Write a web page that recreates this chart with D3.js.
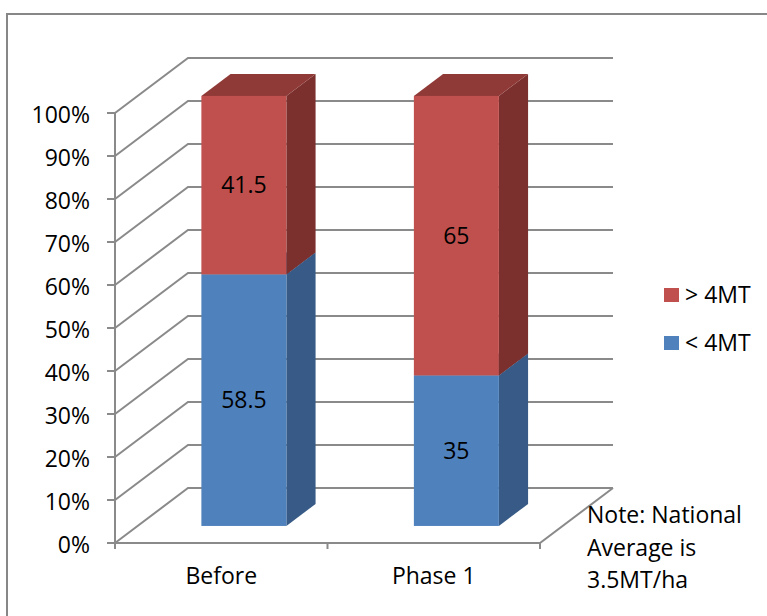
<!DOCTYPE html>
<html>
<head>
<meta charset="utf-8">
<script src="https://cdn.jsdelivr.net/npm/d3@7"></script>
<style>
  html, body { margin: 0; padding: 0; background: #fff; }
  svg { display: block; font-family: "Open Sans", "Noto Sans", sans-serif; }
</style>
</head>
<body>
<svg id="chart" width="767" height="616"></svg>
<script>
// Yield share per stage (percent of farms)
const categories = ["Before", "Phase 1"];
const below4MT = [58.5, 35];
const above4MT = [41.5, 65];
const seriesNames = ["< 4MT", "> 4MT"];
const yTickValues = [0, 10, 20, 30, 40, 50, 60, 70, 80, 90, 100];
const noteLines = ["Note: National", "Average is", "3.5MT/ha"];

const fontSize = 23;
const svg = d3.select("#chart");

// Outer chart frame
svg.append("rect")
  .attr("x", 7).attr("y", 14)
  .attr("width", 790).attr("height", 640)
  .attr("fill", "#fff")
  .attr("stroke", "#878787").attr("stroke-width", 2);

// Front plane scales
const x = d3.scaleBand().domain(categories).range([115, 540])
  .paddingInner(0.6).paddingOuter(0.3);
const y = d3.scaleLinear().domain([0, 100]).range([543, 113]);

// Depth offset (oblique projection): z in [0,1]
const depthX = 73, depthY = -55;
const zBarFront = 0.31, zBarBack = 0.71;
const px = (xv, z) => xv + z * depthX;
const py = (yv, z) => yv + z * depthY;

const gridColor = "#8a8a8a";
const grid = svg.append("g").attr("fill", "none")
  .attr("stroke", gridColor).attr("stroke-width", 2);

// Left wall diagonals and back wall lines at each tick
yTickValues.forEach(v => {
  grid.append("polyline").attr("points", [
    [px(115, 0), py(y(v), 0)],
    [px(115, 1), py(y(v), 1)],
    [px(540, 1), py(y(v), 1)]
  ].map(p => p.join(",")).join(" "));
});

// Floor front and right edges
grid.append("polyline").attr("points", [
  [115, y(0)], [540, y(0)], [px(540, 1), py(y(0), 1)]
].map(p => p.join(",")).join(" "));

// Vertical axis with ticks
grid.append("line").attr("x1", 115).attr("x2", 115)
  .attr("y1", y(100)).attr("y2", y(0) + 6);
yTickValues.forEach(v => {
  grid.append("line").attr("x1", 107).attr("x2", 115)
    .attr("y1", y(v)).attr("y2", y(v));
});
// Category separator ticks
[115, x.step() * 1 + 115, 540].forEach(t => {
  grid.append("line").attr("x1", t).attr("x2", t)
    .attr("y1", y(0)).attr("y2", y(0) + 6);
});

// Y tick labels
svg.append("g").selectAll("text").data(yTickValues).join("text")
  .attr("x", 90).attr("y", d => y(d) + 10)
  .attr("text-anchor", "end")
  .attr("font-size", fontSize).attr("fill", "#000")
  .text(d => d + "%");

// Stacked segments
const colors = {
  "< 4MT": { front: "#4F81BD", side: "#375B86", top: "#3E6797" },
  "> 4MT": { front: "#C0504D", side: "#7B302E", top: "#903A38" }
};
const stackData = categories.map((c, i) => ({ cat: c, "< 4MT": below4MT[i], "> 4MT": above4MT[i] }));
const stacked = d3.stack().keys(seriesNames)(stackData);

const bars = svg.append("g");
const poly = pts => pts.map(p => p.join(",")).join(" ");
categories.forEach((c, i) => {
  const x0 = x(c), x1 = x(c) + x.bandwidth();
  stacked.forEach(layer => {
    const seg = layer[i];
    const yb = y(seg[0]), yt = y(seg[1]);
    const col = colors[layer.key];
    const fx0 = px(x0, zBarFront), fx1 = px(x1, zBarFront);
    const bx1 = px(x1, zBarBack), bx0 = px(x0, zBarBack);
    const fyb = py(yb, zBarFront), fyt = py(yt, zBarFront);
    const byb = py(yb, zBarBack), byt = py(yt, zBarBack);
    // side face
    bars.append("polygon").attr("fill", col.side)
      .attr("points", poly([[fx1, fyt], [bx1, byt], [bx1, byb], [fx1, fyb]]));
    // top face
    bars.append("polygon").attr("fill", col.top)
      .attr("points", poly([[fx0, fyt], [bx0, byt], [bx1, byt], [fx1, fyt]]));
    // front face
    bars.append("rect").attr("fill", col.front)
      .attr("x", fx0).attr("y", fyt)
      .attr("width", fx1 - fx0).attr("height", fyb - fyt);
    // value label
    bars.append("text")
      .attr("x", (fx0 + fx1) / 2).attr("y", (fyt + fyb) / 2 + 8)
      .attr("text-anchor", "middle").attr("font-size", fontSize).attr("fill", "#000")
      .text(seg.data[layer.key]);
  });
});

// Category labels
svg.append("g").selectAll("text").data(categories).join("text")
  .attr("x", d => x(d) + x.bandwidth() / 2).attr("y", 584)
  .attr("text-anchor", "middle").attr("font-size", fontSize).attr("fill", "#000")
  .text(d => d);

// Legend (top entry is the upper series)
const legend = svg.append("g");
const legendItems = seriesNames.slice().reverse();
legendItems.forEach((name, i) => {
  const ly = 288 + i * 48;
  legend.append("rect").attr("x", 664).attr("y", ly)
    .attr("width", 15).attr("height", 14).attr("fill", colors[name].front);
  legend.append("text").attr("x", 685).attr("y", ly + 15)
    .attr("font-size", fontSize).attr("fill", "#000").text(name);
});

// Note
svg.append("g").selectAll("text").data(noteLines).join("text")
  .attr("x", 587).attr("y", (d, i) => 523 + i * 32.5)
  .attr("font-size", fontSize).attr("fill", "#000")
  .text(d => d);
</script>
</body>
</html>
